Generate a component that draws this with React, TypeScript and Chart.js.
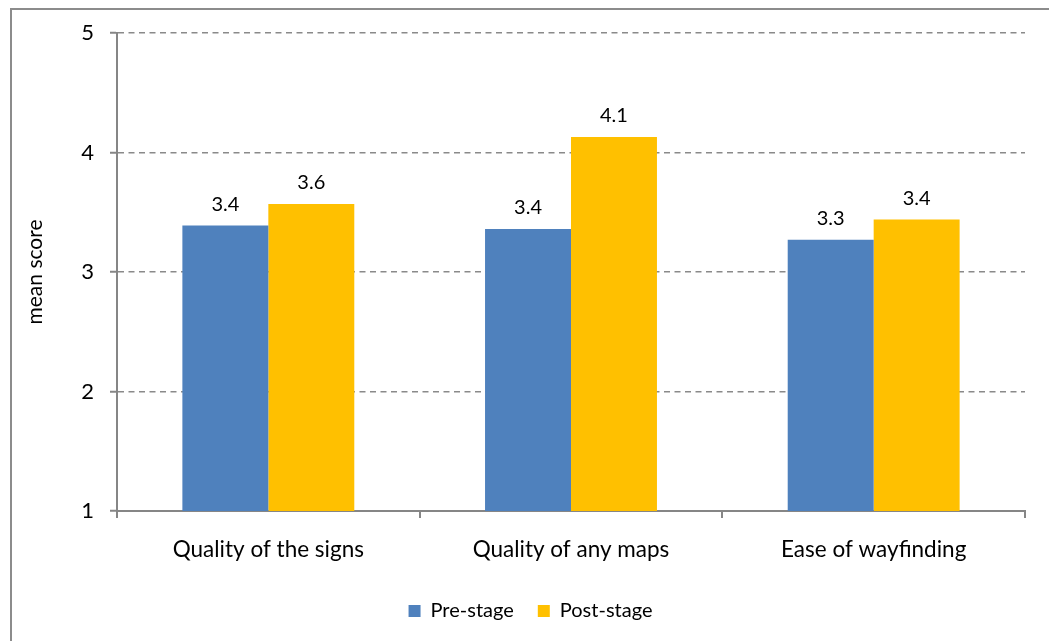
import React, { useEffect, useRef } from "react";
import { Chart, registerables } from "chart.js";

Chart.register(...registerables);

const categories = ["Quality of the signs", "Quality of any maps", "Ease of wayfinding"];
const preStage = [3.39, 3.36, 3.27];
const postStage = [3.57, 4.13, 3.44];
const seriesNames = ["Pre-stage", "Post-stage"];
const yTicks = [1, 2, 3, 4, 5];

const FONT = "Lato, 'Open Sans', sans-serif";
const GREY = "#868686";

const dataLabels = {
  id: "dataLabels",
  afterDatasetsDraw(chart: any) {
    const ctx = chart.ctx;
    ctx.save();
    ctx.font = `20px ${FONT}`;
    ctx.fillStyle = "#000";
    ctx.textAlign = "center";
    ctx.textBaseline = "middle";
    chart.data.datasets.forEach((ds: any, i: number) => {
      const meta = chart.getDatasetMeta(i);
      meta.data.forEach((bar: any, j: number) => {
        ctx.fillText(Number(ds.data[j]).toFixed(1), bar.x, bar.y - 21);
      });
    });
    ctx.restore();
  },
};

export default function App() {
  const ref = useRef<HTMLCanvasElement>(null);
  useEffect(() => {
    if (!ref.current) return;
    const chart = new Chart(ref.current, {
      type: "bar",
      data: {
        labels: categories,
        datasets: [
          { label: seriesNames[0], data: preStage, backgroundColor: "#4F81BD", barPercentage: 1, categoryPercentage: 0.568 },
          { label: seriesNames[1], data: postStage, backgroundColor: "#FFC000", barPercentage: 1, categoryPercentage: 0.568 },
        ],
      },
      options: {
        responsive: false,
        animation: false,
        layout: { padding: { top: 23, right: 0, left: 0, bottom: 10 } },
        plugins: {
          legend: {
            position: "bottom",
            labels: {
              font: { family: FONT, size: 20 },
              color: "#000",
              boxWidth: 12,
              boxHeight: 12,
              padding: 24,
            },
          },
          tooltip: { enabled: false },
        },
        scales: {
          x: {
            grid: {
              offset: true,
              drawOnChartArea: false,
              drawTicks: true,
              tickLength: 7,
              color: GREY,
              lineWidth: 2,
            },
            border: { display: true, color: GREY, width: 2 },
            ticks: { font: { family: FONT, size: 22.5 }, color: "#000", padding: 18 },
            afterFit: (s: any) => { s.height = 66; },
          },
          y: {
            min: 1,
            max: 5,
            afterBuildTicks: (s: any) => { s.ticks = yTicks.map((v) => ({ value: v })); },
            grid: {
              color: "#8a8a8a",
              lineWidth: 1.5,
              tickBorderDash: [],
              tickLength: 7,
              tickColor: GREY,
              tickWidth: 2,
            },
            border: { display: true, color: GREY, width: 2, dash: [6, 4.5] },
            ticks: { font: { family: FONT, size: 22 }, color: "#000", padding: 16 },
            title: {
              display: true,
              text: "mean score",
              font: { family: FONT, size: 21 },
              color: "#000",
              padding: { top: 11, bottom: 0 },
            },
            afterFit: (s: any) => {
              s.width = 105;
              s.paddingTop = 0;
              s.paddingBottom = 0;
            },
          },
          spacer: {
            type: "linear",
            position: "right",
            display: true,
            grid: { display: false, drawTicks: false },
            border: { display: false },
            ticks: { display: false },
            afterFit: (s: any) => {
              s.width = 24;
              s.paddingTop = 0;
              s.paddingBottom = 0;
            },
          },
        },
      },
      plugins: [dataLabels],
    });
    return () => chart.destroy();
  }, []);

  return (
    <div style={{ position: "fixed", inset: 0, overflow: "hidden", background: "#fff" }}>
      <div
        style={{
          position: "absolute",
          left: 10,
          top: 8,
          width: 1060,
          height: 660,
          border: "2px solid #8c8c8c",
          boxSizing: "border-box",
        }}
      >
        <canvas ref={ref} width={1037} height={631} style={{ display: "block" }} />
      </div>
    </div>
  );
}
